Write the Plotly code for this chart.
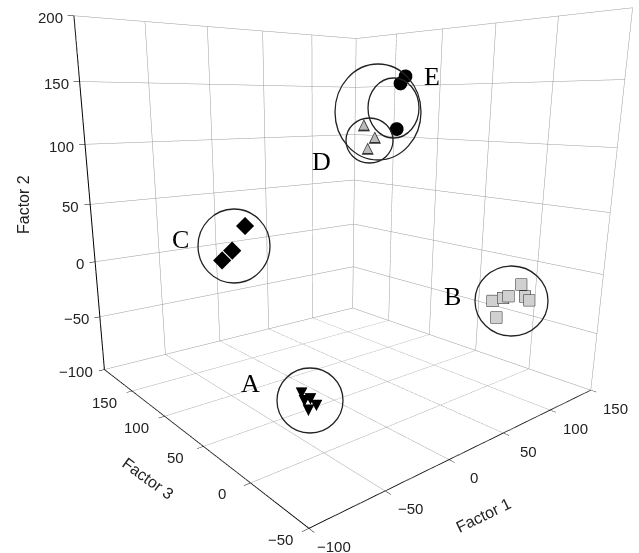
import plotly.graph_objects as go

W, H = 639, 553

# Factor 1 (x), Factor 3 (y), Factor 2 (z)
a_f1 = [-43.1, -40.9, -37.9, -31.6, -36.3]
a_f3 = [30, 30, 30, 30, 30]
a_f2 = [-70.4, -77.2, -85.8, -84.2, -77.3]

b_f1 = [120, 120, 120, 120, 120, 120, 120]
b_f3 = [-7.6, 15.2, 11.0, 6.4, 2.1, -11.3, -14.8]
b_f2 = [-12.6, -33.1, -47.0, -28.1, -25.3, -21.9, -24.3]

c_f1 = [-35.4, -53.6, -45.8]
c_f3 = [100, 100, 100]
c_f2 = [39.5, 14.9, 21.4]

d_f1 = [68.8, 79.9, 72.9]
d_f3 = [100, 100, 100]
d_f2 = [114.5, 103.5, 94.2]

e_f1 = [110.5, 105.3, 102.7]
e_f3 = [100, 100, 100]
e_f2 = [156.8, 150.5, 110.5]

x_ticks = [-100, -50, 0, 50, 100, 150]
y_ticks = [-50, 0, 50, 100, 150]
z_ticks = [-100, -50, 0, 50, 100, 150, 200]
x_range = [-100, 150]
y_range = [-50, 200]
z_range = [-100, 200]

labels = ["A", "B", "C", "D", "E"]
label_px = [(250, 383), (452, 296), (180, 240), (322, 161), (432, 76)]
circles_px = [(277, 368, 343, 433), (475, 266, 548, 336), (198, 209, 270, 283),
              (346, 118, 393, 163), (368, 78, 419, 138), (335, 64, 421, 160)]


def fmt(v):
    return str(v).replace("-", "\u2212")


fig = go.Figure()
fig.add_trace(go.Scatter3d(x=a_f1, y=a_f3, z=a_f2, mode="text", text=["▼"] * len(a_f1),
                           textposition="middle center",
                           textfont=dict(color="black", size=20), showlegend=False))
fig.add_trace(go.Scatter3d(x=b_f1, y=b_f3, z=b_f2, mode="markers",
                           marker=dict(symbol="square", size=6, color="#d0d0d0",
                                       line=dict(color="#222222", width=1.5)), showlegend=False))
fig.add_trace(go.Scatter3d(x=c_f1, y=c_f3, z=c_f2, mode="markers",
                           marker=dict(symbol="diamond", size=6, color="black"), showlegend=False))
fig.add_trace(go.Scatter3d(x=d_f1, y=d_f3, z=d_f2, mode="text", text=["▲"] * len(d_f1),
                           textposition="middle center",
                           textfont=dict(color="#333333", size=21), showlegend=False))
fig.add_trace(go.Scatter3d(x=d_f1, y=d_f3, z=d_f2, mode="text", text=["▲"] * len(d_f1),
                           textposition="middle center",
                           textfont=dict(color="#bbbbbb", size=15), showlegend=False))
fig.add_trace(go.Scatter3d(x=e_f1, y=e_f3, z=e_f2, mode="markers",
                           marker=dict(symbol="circle", size=8, color="black"), showlegend=False))

axis_common = dict(showbackground=False, gridcolor="#999999", gridwidth=1,
                   showline=True, linecolor="black", linewidth=2,
                   ticks="outside", ticklen=5, tickcolor="black",
                   showticklabels=False, title=dict(text=""),
                   zeroline=False, showspikes=False)

tick_font = dict(family="Liberation Sans, Arial", size=15, color="#222222")
scene_ann = []
for v in x_ticks:
    scene_ann.append(dict(x=v, y=y_range[0], z=z_range[0], text=fmt(v), showarrow=False,
                          xanchor="center", yanchor="middle",
                          xshift=25, yshift=-18, font=tick_font))
for v in y_ticks:
    scene_ann.append(dict(x=x_range[0], y=v, z=z_range[0], text=fmt(v), showarrow=False,
                          xanchor="center", yanchor="middle",
                          xshift=-28, yshift=-11, font=tick_font))
for v in z_ticks:
    scene_ann.append(dict(x=x_range[0], y=y_range[1], z=v, text=fmt(v), showarrow=False,
                          xanchor="right", yanchor="middle", xshift=-9, yshift=-2,
                          font=tick_font))

fig.update_layout(
    width=W, height=H,
    margin=dict(l=0, r=0, t=0, b=0),
    paper_bgcolor="white",
    font=dict(family="Liberation Sans, Arial"),
    scene=dict(
        domain=dict(x=[0, 1], y=[0, 1]),
        xaxis=dict(range=x_range, tickvals=x_ticks, **axis_common),
        yaxis=dict(range=y_range, tickvals=y_ticks + [200], **axis_common),
        zaxis=dict(range=z_range, tickvals=z_ticks, **axis_common),
        aspectmode="manual", aspectratio=dict(x=1, y=1, z=1),
        camera=dict(eye=dict(x=-1.175, y=-1.368, z=0.273),
                    center=dict(x=-0.141, y=-0.087, z=-0.151),
                    up=dict(x=0, y=0, z=1)),
        bgcolor="white",
        annotations=scene_ann,
    ),
)

title_font = dict(family="Liberation Sans, Arial", size=16, color="#222222")
for txt, (px, py), ang in [("Factor 2", (23, 205), -90), ("Factor 3", (148, 478), 36),
                           ("Factor 1", (483, 515), -26)]:
    fig.add_annotation(x=px / W, y=1 - py / H, xref="paper", yref="paper", text=txt,
                       xanchor="center", yanchor="middle",
                       textangle=ang, showarrow=False, font=title_font)

for (x0, y0, x1, y1) in circles_px:
    fig.add_shape(type="circle", xref="paper", yref="paper",
                  x0=x0 / W, x1=x1 / W, y0=1 - y1 / H, y1=1 - y0 / H,
                  line=dict(color="#222222", width=1.3))
for t, (px, py) in zip(labels, label_px):
    fig.add_annotation(x=px / W, y=1 - py / H, xref="paper", yref="paper", text=t,
                       xanchor="center", yanchor="middle",
                       showarrow=False, font=dict(family="Liberation Serif, Times New Roman",
                                                  size=26, color="black"))

fig.write_html("out.html", config={"displayModeBar": False},
               post_script="document.body.style.margin='0px';")
